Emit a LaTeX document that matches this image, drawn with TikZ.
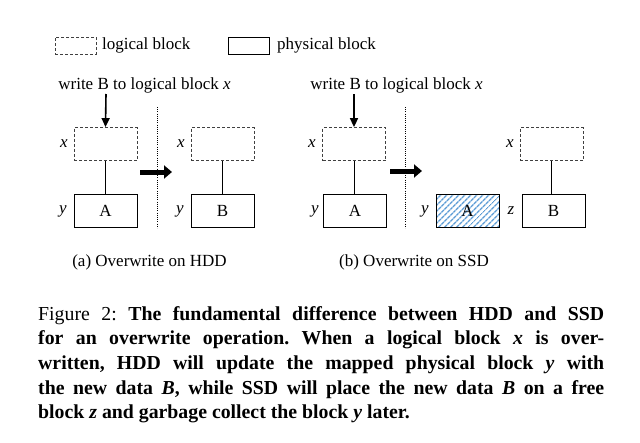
\documentclass[tikz,border=0pt]{standalone}
\usepackage{fontspec}
\setmainfont{Liberation Serif}
\usetikzlibrary{arrows.meta,patterns.meta}
\definecolor{hatch}{HTML}{5B9BD5}
\begin{document}
\begin{tikzpicture}[x=1pt,y=-1pt,
  font=\fontsize{17}{20}\selectfont,
  lblock/.style={draw=black!75,dashed,dash pattern=on 3pt off 2pt,line width=0.8pt,minimum width=63pt,minimum height=33pt,inner sep=0pt},
  pblock/.style={draw,line width=0.8pt,minimum width=63pt,minimum height=33pt,inner sep=0pt},
  hblock/.style={pblock,pattern={Lines[angle=45,distance=4pt,line width=1.4pt]},pattern color=hatch},
  lab/.style={inner sep=0pt,font=\fontsize{17}{20}\selectfont\itshape},
  link/.style={line width=0.9pt},
  wrarrow/.style={line width=1.6pt,-{Triangle[length=9pt,width=8pt]}},
  bigarrow/.style={line width=5pt,-{Triangle[length=8pt,width=13pt]}},
  sep/.style={dotted,line width=0.9pt,dash pattern=on 0.8pt off 1.4pt}]
\useasboundingbox (0,0) rectangle (640,442);
% legend
\node[lblock,minimum width=41pt,minimum height=17pt] (legl) at (75.5,45.5) {};
\node[anchor=west,inner sep=0pt] (legltxt) at (102,45) {logical block};
\node[pblock,minimum width=41pt,minimum height=17pt] (legp) at (248.5,45.5) {};
\node[anchor=west,inner sep=0pt] (legptxt) at (277,45) {physical block};
% panel a
\node[inner sep=0pt] (wra) at (144.5,85) {write B to logical block \textit{x}};
\node[lblock] (la1) at (105.5,144) {};
\node[pblock] (pa1) at (105.5,210.5) {A};
\node[lab] (xa1) at (64,144) {x};
\node[lab] (ya1) at (63,211) {y};
\node[lblock] (la2) at (222.5,144) {};
\node[pblock] (pa2) at (222.5,210.5) {B};
\node[lab] (xa2) at (181,144) {x};
\node[lab] (ya2) at (180,211) {y};
\coordinate (wa) at (106,94);
\draw[wrarrow] (wa) -- (la1.north);
\draw[link] (la1) -- (pa1);
\draw[link] (la2) -- (pa2);
\coordinate (ba1) at (140,172);
\coordinate (ba2) at (172,172);
\draw[bigarrow] (ba1) -- (ba2);
\coordinate (sa1) at (157,107);
\coordinate (sa2) at (157,228);
\draw[sep] (sa1) -- (sa2);
\node (capa) at (149.5,262) {(a) Overwrite on HDD};
% panel b
\node[inner sep=0pt] (wrb) at (396.5,85) {write B to logical block \textit{x}};
\node[lblock] (lb1) at (354,144) {};
\node[pblock] (pb1) at (355,210.5) {A};
\node[lab] (xb1) at (312,144) {x};
\node[lab] (yb1) at (315,211) {y};
\node[hblock] (pb2) at (467.5,210.5) {A};
\node[lab] (yb2) at (425,211) {y};
\node[pblock] (pb3) at (553.5,210.5) {B};
\node[lab] (zb3) at (511,211) {z};
\node[lblock] (lb3) at (551.5,144) {};
\node[lab] (xb3) at (510,144) {x};
\coordinate (wb) at (354,94);
\draw[wrarrow] (wb) -- (lb1.north);
\draw[link] (lb1) -- (lb1 |- pb1.north);
\draw[link] (lb3) -- (lb3 |- pb3.north);
\coordinate (bb1) at (390,171);
\coordinate (bb2) at (422,171);
\draw[bigarrow] (bb1) -- (bb2);
\coordinate (sb1) at (405,107);
\coordinate (sb2) at (405,228);
\draw[sep] (sb1) -- (sb2);
\node (capb) at (414,262) {(b) Overwrite on SSD};
% figure caption
\node[anchor=north west,inner sep=0pt,text width=566pt,align=justify,font=\fontsize{19.8}{24.7}\selectfont\frenchspacing] (figcap) at (38,306)
{Figure 2: \textbf{The fundamental difference between HDD and SSD\linebreak for an overwrite operation. When a logical block \textit{x} is over-\linebreak written, HDD will update the mapped physical block \textit{y} with\linebreak the new data \textit{B}, while SSD will place the new data \textit{B} on a free\linebreak block \textit{z} and garbage collect the block \textit{y} later.}};
\end{tikzpicture}
\end{document}
